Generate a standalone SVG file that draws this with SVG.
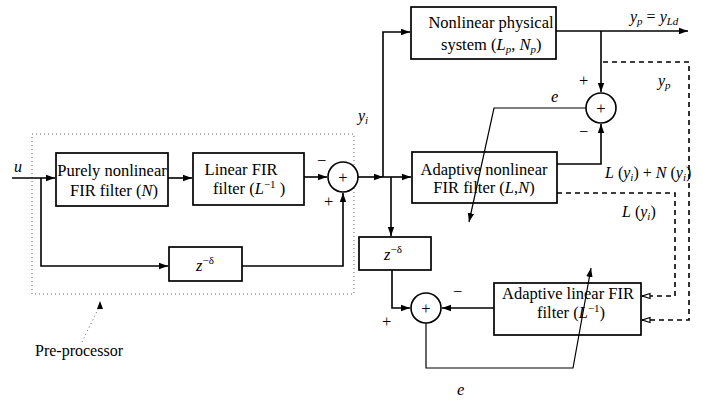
<svg xmlns="http://www.w3.org/2000/svg" width="703" height="402" viewBox="0 0 703 402">
<defs>
<marker id="ar" markerWidth="10" markerHeight="8" refX="9" refY="4" orient="auto" markerUnits="userSpaceOnUse">
<path d="M0,0.8 L9,4 L0,7.2 Z" fill="#000"/>
</marker>
<marker id="op" markerWidth="10" markerHeight="8" refX="9" refY="4" orient="auto" markerUnits="userSpaceOnUse">
<path d="M1,1.5 L8.5,4 L1,6.5 Z" fill="#fff" stroke="#000" stroke-width="1.2"/>
</marker>
</defs>
<style>
text{font-family:"Liberation Serif","Times New Roman",serif;font-size:16.5px;fill:#000}
.lb{font-size:16px}
.it{font-style:italic}
.box{fill:none;stroke:#000;stroke-width:1.7}
.sum{fill:#fff;stroke:#000;stroke-width:1.6}
.w{fill:none;stroke:#000;stroke-width:1.6}
.th{fill:none;stroke:#000;stroke-width:1.2}
.da{fill:none;stroke:#000;stroke-width:1.6;stroke-dasharray:5,4}
.dot{fill:none;stroke:#666;stroke-width:1;stroke-dasharray:1,3}
</style>
<rect width="703" height="402" fill="#fff"/>

<g id="preprocessor-frame">
<rect class="dot" x="32" y="134" width="322" height="160"/>
<path class="dot" d="M100,305 L82,342"/>
<path d="M100,301 L97,309 L103,309 Z" fill="#000"/>
<text x="35" y="356" class="lb">Pre-processor</text>
</g>

<g id="connectors">
<path class="w" d="M12,178 H55" marker-end="url(#ar)"/>
<path class="w" d="M41,178 V266 H168" marker-end="url(#ar)"/>
<path class="w" d="M168,178 H192" marker-end="url(#ar)"/>
<path class="w" d="M304,177 H327" marker-end="url(#ar)"/>
<path class="w" d="M242,266 H343 V193" marker-end="url(#ar)"/>
<path class="w" d="M358,177 H383" marker-end="url(#ar)"/>
<path class="w" d="M383,177 H411" marker-end="url(#ar)"/>
<path class="w" d="M383,177 V32 H410" marker-end="url(#ar)"/>
<path class="w" d="M391,177 V236" marker-end="url(#ar)"/>
<path class="w" d="M392,270 V308 H410" marker-end="url(#ar)"/>
<path class="w" d="M494,308 H442" marker-end="url(#ar)"/>
<path class="th" d="M426,323 V368 H573 L591,268" marker-end="url(#ar)"/>
<path class="w" d="M556,31 H688" marker-end="url(#ar)"/>
<path class="w" d="M601,31 V92" marker-end="url(#ar)"/>
<path class="w" d="M557,164 H601 V124" marker-end="url(#ar)"/>
<path class="th" d="M586,108 H494 L469,222" marker-end="url(#ar)"/>
<path class="da" d="M603,62 H689 V320 H642" marker-end="url(#op)"/>
<path class="da" d="M557,193 H675 V296 H642" marker-end="url(#op)"/>
</g>

<g id="purely-nonlinear">
<rect class="box" x="56" y="153" width="112" height="53"/>
<text x="112" y="176" text-anchor="middle">Purely nonlinear</text>
<text x="114" y="196" text-anchor="middle">FIR filter (<tspan class="it">N</tspan>)</text>
</g>

<g id="linear-fir">
<rect class="box" x="193" y="153" width="111" height="52"/>
<text x="241" y="175" text-anchor="middle">Linear FIR</text>
<text x="213" y="194">filter (<tspan class="it">L</tspan><tspan dy="-6" font-size="11">−1</tspan><tspan dy="6"> )</tspan></text>
</g>

<g id="sum1">
<circle class="sum" cx="343" cy="177" r="15"/>
<text x="343" y="183" text-anchor="middle">+</text>
<text x="317" y="166">−</text>
<text x="324" y="207">+</text>
</g>

<g id="delay1">
<rect class="box" x="169" y="247" width="73" height="34"/>
<text x="196" y="271" class="it" font-size="14">z<tspan dy="-7" font-size="11" font-style="normal">−δ</tspan></text>
</g>

<g id="nonlinear-physical">
<rect class="box" x="411" y="7" width="145" height="52"/>
<text x="491" y="28" text-anchor="middle">Nonlinear physical</text>
<text x="441" y="50">system (<tspan class="it">L</tspan><tspan dy="3" font-size="11" class="it">p</tspan><tspan dy="-3">, </tspan><tspan class="it">N</tspan><tspan dy="3" font-size="11" class="it">p</tspan><tspan dy="-3">)</tspan></text>
</g>

<g id="adaptive-nonlinear">
<rect class="box" x="412" y="152" width="145" height="51"/>
<text x="484" y="175" text-anchor="middle">Adaptive nonlinear</text>
<text x="484" y="193" text-anchor="middle">FIR filter (<tspan class="it">L</tspan>,<tspan class="it">N</tspan>)</text>
</g>

<g id="delay2">
<rect class="box" x="359" y="237" width="72" height="33"/>
<text x="384" y="260" class="it" font-size="14">z<tspan dy="-7" font-size="11" font-style="normal">−δ</tspan></text>
</g>

<g id="sum2">
<circle class="sum" cx="601" cy="108" r="15"/>
<text x="601" y="114" text-anchor="middle">+</text>
<text x="579" y="86">+</text>
<text x="579" y="137">−</text>
</g>

<g id="sum3">
<circle class="sum" cx="426" cy="308" r="15"/>
<text x="426" y="314" text-anchor="middle">+</text>
<text x="382" y="327">+</text>
<text x="453" y="297">−</text>
</g>

<g id="adaptive-linear">
<rect class="box" x="494" y="283" width="147" height="52"/>
<text x="568" y="299" text-anchor="middle">Adaptive linear FIR</text>
<text x="537" y="318">filter (<tspan class="it">L</tspan><tspan dy="-6" font-size="11">−1</tspan><tspan dy="6">)</tspan></text>
</g>

<g id="labels">
<text x="14" y="172" class="it lb">u</text>
<text x="358" y="121" class="it lb">y<tspan dy="3" font-size="11">i</tspan></text>
<text x="630" y="22" class="it lb">y<tspan dy="3" font-size="11">p</tspan><tspan dy="-3" font-style="normal"> = </tspan>y<tspan dy="3" font-size="11">Ld</tspan></text>
<text x="658" y="86" class="it lb">y<tspan dy="3" font-size="11">p</tspan></text>
<text x="551" y="102" class="it" font-size="14">e</text>
<text x="605" y="178" class="lb"><tspan class="it">L</tspan> (<tspan class="it">y</tspan><tspan dy="3" font-size="11" class="it">i</tspan><tspan dy="-3">) + </tspan><tspan class="it">N</tspan> (<tspan class="it">y</tspan><tspan dy="3" font-size="11" class="it">i</tspan><tspan dy="-3">)</tspan></text>
<text x="622" y="217" class="lb"><tspan class="it">L</tspan> (<tspan class="it">y</tspan><tspan dy="3" font-size="11" class="it">i</tspan><tspan dy="-3">)</tspan></text>
<text x="457" y="395" class="it" font-size="14">e</text>
</g>
</svg>
